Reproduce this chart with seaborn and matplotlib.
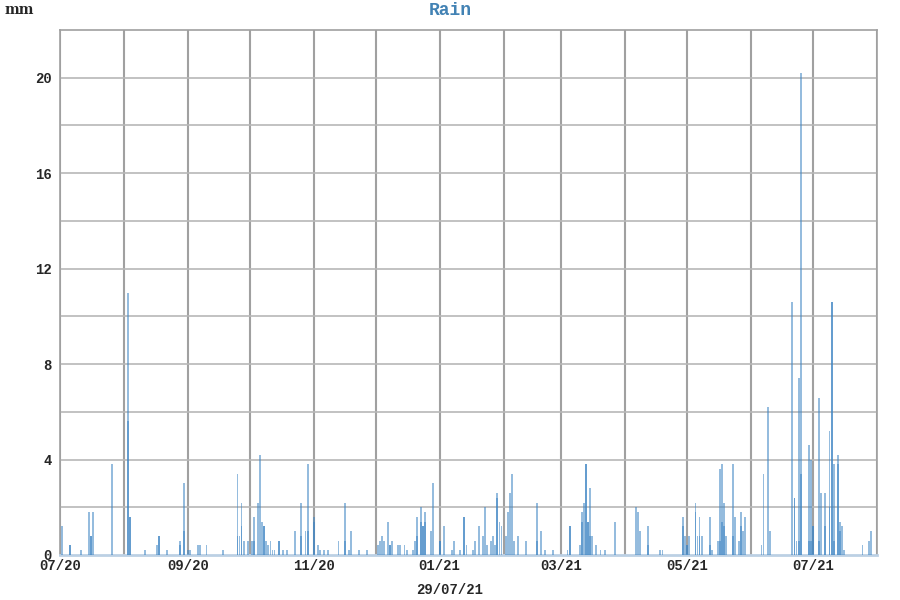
import matplotlib.pyplot as plt
import seaborn as sns

sns.set_style("white")

# ---------------------------------------------------
# Data (days counted from 1 July 2020, rain in mm)
# ---------------------------------------------------

rain_days = [1, 5, 10, 14, 15, 16, 25, 33, 34, 41, 47, 48, 52,
             58, 60, 62, 63, 67, 68, 71, 79, 86, 87, 88, 89, 91, 93, 94, 96, 97, 98, 99,
             100, 101, 102, 103, 104, 106, 108, 110,
             114, 117, 119, 120, 123, 125, 126, 128, 130, 135, 138, 140, 141, 145, 149,
             154, 155, 156, 157, 159, 160, 161, 164, 165, 167, 168, 171,
             172, 173, 175, 176, 177, 180, 181, 184, 186, 190, 191, 194, 196, 197, 200,
             201, 203, 205, 206, 207, 209, 210, 211, 212, 213, 214, 216, 217, 218, 219,
             220, 222, 226,
             231, 233, 235, 239, 246, 247, 252, 253, 254, 255, 256, 257, 258, 260, 262,
             264, 269, 279, 280, 281, 285,
             291, 292, 302, 303, 304, 305, 308, 309, 310, 311, 315, 316, 319, 320, 321,
             322, 323, 326, 327, 329, 330, 331, 332, 340, 341, 343, 344,
             355, 356, 357, 358, 359, 363, 364, 365, 368, 369, 371, 373, 374, 375, 377,
             378, 379, 380, 389, 392, 393]
rain_mm = [1.2, 0.4, 0.2, 1.8, 0.8, 1.8, 3.8, 11.0, 1.6, 0.2, 0.4, 0.8, 0.2,
           0.6, 3.0, 0.2, 0.2, 0.4, 0.4, 0.4, 0.2, 3.4, 0.8, 2.2, 0.6, 0.6, 0.6, 1.6, 2.2, 4.2, 1.4, 1.2,
           0.6, 0.4, 0.6, 0.2, 0.2, 0.6, 0.2, 0.2,
           1.0, 2.2, 1.0, 3.8, 1.6, 0.4, 0.2, 0.2, 0.2, 0.6, 2.2, 0.2, 1.0, 0.2, 0.2,
           0.4, 0.6, 0.8, 0.6, 1.4, 0.4, 0.6, 0.4, 0.4, 0.4, 0.2, 0.2,
           0.6, 1.6, 2.0, 1.2, 1.8, 1.0, 3.0, 0.6, 1.2, 0.2, 0.6, 0.2, 1.6, 0.4, 0.2,
           0.6, 1.2, 0.8, 2.0, 0.4, 0.6, 0.8, 0.4, 2.6, 1.4, 1.2, 0.8, 1.8, 2.6, 3.4,
           0.6, 0.8, 0.6,
           2.2, 1.0, 0.2, 0.2, 0.2, 1.2, 0.4, 1.8, 2.2, 3.8, 1.4, 2.8, 0.8, 0.4, 0.2,
           0.2, 1.4, 2.0, 1.8, 1.0, 1.2,
           0.2, 0.2, 1.6, 0.8, 0.4, 0.8, 2.2, 0.8, 1.6, 0.8, 1.6, 0.2, 0.6, 3.6, 3.8,
           2.2, 0.8, 3.8, 1.6, 0.6, 1.8, 1.0, 1.6, 0.4, 3.4, 6.2, 1.0,
           10.6, 2.4, 0.6, 7.4, 20.2, 4.6, 4.0, 1.2, 6.6, 2.6, 2.6, 5.2, 10.6, 3.8, 4.2,
           1.4, 1.2, 0.2, 0.4, 0.6, 1.0]

# darker part where several readings overlap
heavy_days = [5, 15, 33, 34, 48, 58, 60, 86, 88, 94, 99, 106, 117, 120, 123, 138, 160,
              173, 175, 176, 177, 184, 196, 212, 231, 247, 253, 255, 256, 257, 285,
              302, 304, 308, 310, 315, 320, 321, 322, 326, 330,
              356, 358, 359, 363, 364, 365, 368, 371, 373, 374, 375, 377, 378]
heavy_mm = [0.4, 0.8, 5.6, 1.6, 0.8, 0.4, 1.0, 0.8, 1.2, 0.6, 1.2, 0.6, 0.8, 1.0, 1.4, 0.6, 0.4,
            0.8, 1.4, 1.2, 1.4, 0.6, 1.6, 2.4, 0.6, 1.2, 1.4, 3.8, 1.4, 0.8, 0.4,
            1.2, 0.4, 1.8, 0.8, 0.4, 0.6, 1.4, 1.2, 0.8, 1.2,
            2.4, 0.6, 3.4, 0.6, 0.6, 1.2, 0.6, 1.2, 2.0, 10.6, 0.6, 3.8, 1.0]

month_starts = [0, 31, 62, 92, 123, 153, 184, 215, 243, 274, 304, 335, 365, 396]
month_labels = ["07/20", "", "09/20", "", "11/20", "", "01/21", "", "03/21", "",
                "05/21", "", "07/21", ""]

# ---------------------------------------------------
# Plot
# ---------------------------------------------------

mono = "Liberation Mono"
bar_color = "#3f85c4"

fig = plt.figure(figsize=(9, 6), dpi=100)
ax = fig.add_axes([60 / 900, 45 / 600, 817 / 900, 525 / 600])

for days, vals in [(rain_days, rain_mm), (heavy_days, heavy_mm)]:
    sns.histplot(x=days, weights=vals, discrete=True, shrink=0.9,
                 color=bar_color, alpha=0.55, edgecolor="none", linewidth=0,
                 ax=ax, zorder=3)

ax.set_xlim(0, 396)
ax.set_ylim(0, 22)
ax.set_xlabel("")
ax.set_ylabel("")

for x in month_starts:
    ax.axvline(x, color="#a0a0a0", lw=1.5, zorder=0)
for y in range(2, 22, 2):
    ax.axhline(y, color="#b8b8b8", lw=1.2, zorder=0)

ax.set_xticks(month_starts)
ax.set_xticklabels(month_labels, fontfamily=mono, fontweight="bold", fontsize=10)
ax.set_yticks(range(0, 22, 4))
ax.set_yticklabels([str(v) for v in range(0, 22, 4)],
                   fontfamily=mono, fontweight="bold", fontsize=10)
ax.tick_params(axis="x", length=0, pad=3)
ax.tick_params(axis="y", length=0, pad=6)

for side in ax.spines.values():
    side.set_color("#a0a0a0")
    side.set_linewidth(1.2)
ax.spines["bottom"].set_color("#bcd0e4")
ax.spines["bottom"].set_linewidth(2)

fig.text(0.5, 0.983, "Rain", ha="center", va="center", color="#4282b4",
         fontfamily=mono, fontweight="bold", fontsize=13)
fig.text(0.005, 0.983, "mm", ha="left", va="center",
         fontfamily="DejaVu Serif", fontweight="bold", fontsize=10)
fig.text(0.5, 0.017, "29/07/21", ha="center", va="center",
         fontfamily=mono, fontweight="bold", fontsize=10)

fig.savefig("out.png", dpi=100)
